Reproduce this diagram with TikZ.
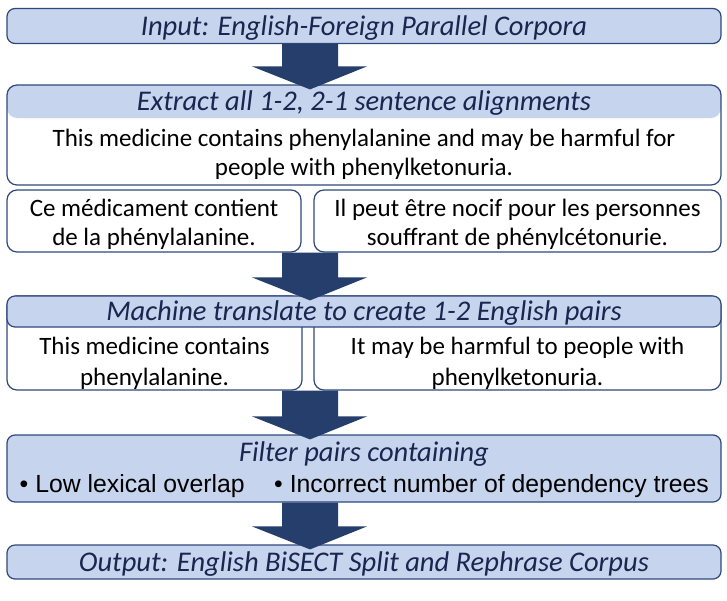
\documentclass[tikz,border=0pt]{standalone}
\usepackage{fontspec}
\setmainfont{Carlito}
\newfontfamily\arialf{Liberation Sans}
\usetikzlibrary{calc}
\definecolor{bfill}{RGB}{198,212,237}
\definecolor{bdraw}{RGB}{47,72,122}
\definecolor{arrowc}{RGB}{38,62,108}
\definecolor{htext}{RGB}{24,38,80}
\tikzset{
  bluebox/.style={draw=bdraw, line width=1.2pt, fill=bfill, rounded corners=8pt, inner sep=0pt},
  whitebox/.style={draw=bdraw, line width=1.2pt, fill=white, rounded corners=10pt, inner sep=0pt},
  htxt/.style={font=\fontsize{28.5}{32}\selectfont\itshape, text=htext, inner sep=0pt},
  btxt/.style={font=\fontsize{25}{29}\selectfont, align=center, inner sep=0pt},
  bultxt/.style={font=\arialf\fontsize{24.8}{28}\selectfont, inner sep=0pt, anchor=west},
  blockarrow/.style={fill=arrowc}
}
\newcommand\barrow[2]{%
  \coordinate (atop) at (#1.south -| #2.north);
  \fill[blockarrow] ($(atop)+(-82,0)$) -- ($(atop)+(-26,0)$)
    -- ($(#2.north)+(-26,-18)$) -- ($(#2.north)+(3,-18)$)
    -- ($(#2.north)+(-54,5)$)
    -- ($(#2.north)+(-112,-18)$) -- ($(#2.north)+(-82,-18)$) -- cycle;}
\begin{document}
\begin{tikzpicture}[x=1pt,y=-1pt]
\useasboundingbox (0,0) rectangle (727,600);
% box 1
\node[bluebox, minimum width=714pt, minimum height=35pt] (in) at (364,26) {};
\node[htxt] (int) at (364,28.5) {Input: English-Foreign Parallel Corpora};
% box 2
\node[whitebox, minimum width=714pt, minimum height=100pt,
  path picture={\fill[bfill] (path picture bounding box.north west) rectangle ([yshift=-33pt]path picture bounding box.north east);}] (ex) at (364,135) {};
\node[htxt] (exh) at (364,103.5) {Extract all 1-2, 2-1 sentence alignments};
\node[btxt] (exb) at (364,154.5) {This medicine contains phenylalanine and may be harmful for\\people with phenylketonuria.};
\node[whitebox, minimum width=294pt, minimum height=62pt] (frl) at (154,221) {};
\node[btxt] (frlt) at (154,224) {Ce médicament contient\\de la phénylalanine.};
\node[whitebox, minimum width=407pt, minimum height=62pt] (frr) at (517.5,221) {};
\node[btxt] (frrt) at (517.5,224) {Il peut être nocif pour les personnes\\souffrant de phénylcétonurie.};
% box 3
\node[whitebox, minimum width=295pt, minimum height=94pt] (enl) at (154.5,343) {};
\node[whitebox, minimum width=407pt, minimum height=94pt] (enr) at (517.5,343) {};
\node[btxt, font=\fontsize{25}{31}\selectfont] (enlt) at (154.5,363) {This medicine contains\\phenylalanine.};
\node[btxt, font=\fontsize{25}{31}\selectfont] (enrt) at (517.5,363) {It may be harmful to people with\\phenylketonuria.};
\node[bluebox, minimum width=714pt, minimum height=31pt] (mt) at (364,311.5) {};
\node[htxt] (mtt) at (364,313.5) {Machine translate to create 1-2 English pairs};
% box 4
\node[bluebox, minimum width=714pt, minimum height=67pt] (fl) at (364,468.5) {};
\node[htxt] (flh) at (364,454) {Filter pairs containing};
\node[bultxt] (b1) at (19.5,486) {\textbullet\ Low lexical overlap};
\node[bultxt] (b2) at (274,486) {\textbullet\ Incorrect number of dependency trees};
% box 5
\node[bluebox, minimum width=714pt, minimum height=34pt] (out) at (364,562) {};
\node[htxt] (outt) at (364,564.5) {Output: English BiSECT Split and Rephrase Corpus};
% arrows
\barrow{in}{ex}
\barrow{frl}{mt}
\barrow{enl}{fl}
\barrow{fl}{out}
\end{tikzpicture}
\end{document}
